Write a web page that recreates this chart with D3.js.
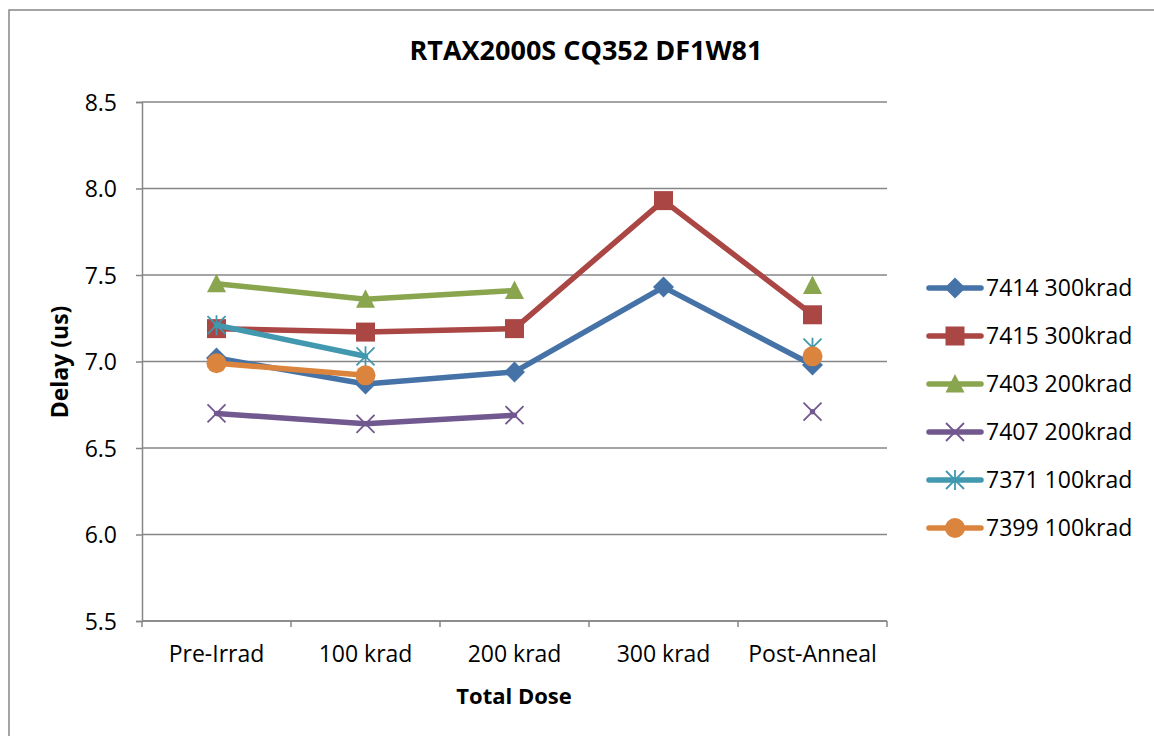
<!DOCTYPE html>
<html>
<head>
<meta charset="utf-8">
<script src="https://cdn.jsdelivr.net/npm/d3@7"></script>
<style>
  body { margin: 0; background: #fff; }
  text { font-family: "Open Sans", sans-serif; fill: #000; }
</style>
</head>
<body>
<div class="chart"></div>
<script>
// valeurs
const categories = ["Pre-Irrad", "100 krad", "200 krad", "300 krad", "Post-Anneal"];
const seriesNames = ["7414 300krad", "7415 300krad", "7403 200krad", "7407 200krad", "7371 100krad", "7399 100krad"];
const s7414 = [7.02, 6.87, 6.94, 7.43, 6.98];
const s7415 = [7.19, 7.17, 7.19, 7.93, 7.27];
const s7403 = [7.45, 7.36, 7.41, null, 7.44];
const s7407 = [6.70, 6.64, 6.69, null, 6.71];
const s7371 = [7.21, 7.03, null, null, 7.08];
const s7399 = [6.99, 6.92, null, null, 7.03];
const yTicks = [5.5, 6.0, 6.5, 7.0, 7.5, 8.0, 8.5];

const colors = ["#4572A7", "#AA4643", "#89A54E", "#71588F", "#4198AF", "#DB843D"];
const shapes = ["diamond", "square", "triangle", "x", "star", "circle"];
const values = [s7414, s7415, s7403, s7407, s7371, s7399];

const width = 1154;
const height = 736;
const grid = "#868686";

const svg = d3.select("div.chart")
    .append("svg")
    .attr("width", width)
    .attr("height", height);

// cadre du graphique
svg.append("rect")
    .attr("x", 9).attr("y", 10)
    .attr("width", 1160).attr("height", 740)
    .attr("fill", "none")
    .attr("stroke", grid)
    .attr("stroke-width", 1.5);

const x = d3.scaleBand().domain(categories).range([142, 887]);
const y = d3.scaleLinear().domain([5.5, 8.5]).range([621, 102]);

// grille
svg.append("g")
    .selectAll("line")
    .data(yTicks)
    .enter()
    .append("line")
    .attr("x1", 142).attr("x2", 887)
    .attr("y1", d => y(d)).attr("y2", d => y(d))
    .attr("stroke", grid)
    .attr("stroke-width", 1.5);

// axe y
const yAxis = svg.append("g")
    .attr("transform", "translate(142,0)")
    .call(d3.axisLeft(y).tickValues(yTicks).tickFormat(d3.format(".1f")).tickSize(6).tickPadding(19));
yAxis.select(".domain").attr("stroke", grid).attr("stroke-width", 1.5);
yAxis.selectAll(".tick line").attr("stroke", grid).attr("stroke-width", 1.5);
yAxis.selectAll(".tick text").style("font-size", "23px").attr("dy", "0.35em");

// axe x
const xAxis = svg.append("g")
    .attr("transform", "translate(0,621)")
    .call(d3.axisBottom(x).tickSize(0).tickPadding(25));
xAxis.select(".domain").remove();
xAxis.selectAll(".tick text").style("font-size", "23px");
svg.append("line")
    .attr("x1", 142).attr("x2", 887)
    .attr("y1", 621).attr("y2", 621)
    .attr("stroke", grid).attr("stroke-width", 1.5);
svg.append("g")
    .selectAll("line")
    .data(d3.range(categories.length + 1))
    .enter()
    .append("line")
    .attr("x1", i => 142 + i * x.step()).attr("x2", i => 142 + i * x.step())
    .attr("y1", 621).attr("y2", 627)
    .attr("stroke", grid).attr("stroke-width", 1.5);

function marker(g, shape, color) {
    if (shape === "diamond") {
        g.append("path").attr("d", "M0,-10.5L10.5,0L0,10.5L-10.5,0Z").attr("fill", color);
    } else if (shape === "square") {
        g.append("rect").attr("x", -9.5).attr("y", -9.5).attr("width", 19).attr("height", 19).attr("fill", color);
    } else if (shape === "triangle") {
        g.append("path").attr("d", "M0,-10L9.5,8.5L-9.5,8.5Z").attr("fill", color);
    } else if (shape === "circle") {
        g.append("circle").attr("r", 10).attr("fill", color);
    } else if (shape === "x") {
        g.append("path").attr("d", "M-9,-9L9,9M-9,9L9,-9").attr("stroke", color).attr("stroke-width", 1.8).attr("fill", "none");
    } else if (shape === "star") {
        g.append("path").attr("d", "M-9,-9L9,9M-9,9L9,-9M0,-10L0,10").attr("stroke", color).attr("stroke-width", 1.8).attr("fill", "none");
    }
}

const line = d3.line()
    .defined(d => d.v !== null)
    .x(d => x(d.c) + x.bandwidth() / 2)
    .y(d => y(d.v));

values.forEach(function (vals, i) {
    const pts = vals.map((v, j) => ({ c: categories[j], v: v }));
    const g = svg.append("g");
    g.append("path")
        .attr("d", line(pts))
        .attr("fill", "none")
        .attr("stroke", colors[i])
        .attr("stroke-width", 5.5)
        .attr("stroke-linejoin", "round")
        .attr("stroke-linecap", "round");
    pts.filter(p => p.v !== null).forEach(function (p) {
        const m = g.append("g")
            .attr("transform", "translate(" + (x(p.c) + x.bandwidth() / 2) + "," + y(p.v) + ")");
        marker(m, shapes[i], colors[i]);
    });
});

// légende
const legend = svg.append("g");
seriesNames.forEach(function (name, i) {
    const ly = 288 + i * 48;
    legend.append("line")
        .attr("x1", 929).attr("x2", 981)
        .attr("y1", ly).attr("y2", ly)
        .attr("stroke", colors[i])
        .attr("stroke-width", 5.5)
        .attr("stroke-linecap", "round");
    const m = legend.append("g").attr("transform", "translate(955," + ly + ")");
    marker(m, shapes[i], colors[i]);
    legend.append("text")
        .attr("x", 986).attr("y", ly)
        .attr("dy", "0.35em")
        .style("font-size", "23px")
        .text(name);
});

// titres
svg.append("text")
    .attr("x", 586).attr("y", 60)
    .attr("text-anchor", "middle")
    .style("font-size", "27px")
    .style("font-weight", "bold")
    .text("RTAX2000S CQ352 DF1W81");

svg.append("text")
    .attr("x", 514).attr("y", 704)
    .attr("text-anchor", "middle")
    .style("font-size", "22px")
    .style("font-weight", "bold")
    .text("Total Dose");

svg.append("text")
    .attr("transform", "translate(68,362) rotate(-90)")
    .attr("text-anchor", "middle")
    .style("font-size", "23px")
    .style("font-weight", "bold")
    .text("Delay (us)");
</script>
</body>
</html>
